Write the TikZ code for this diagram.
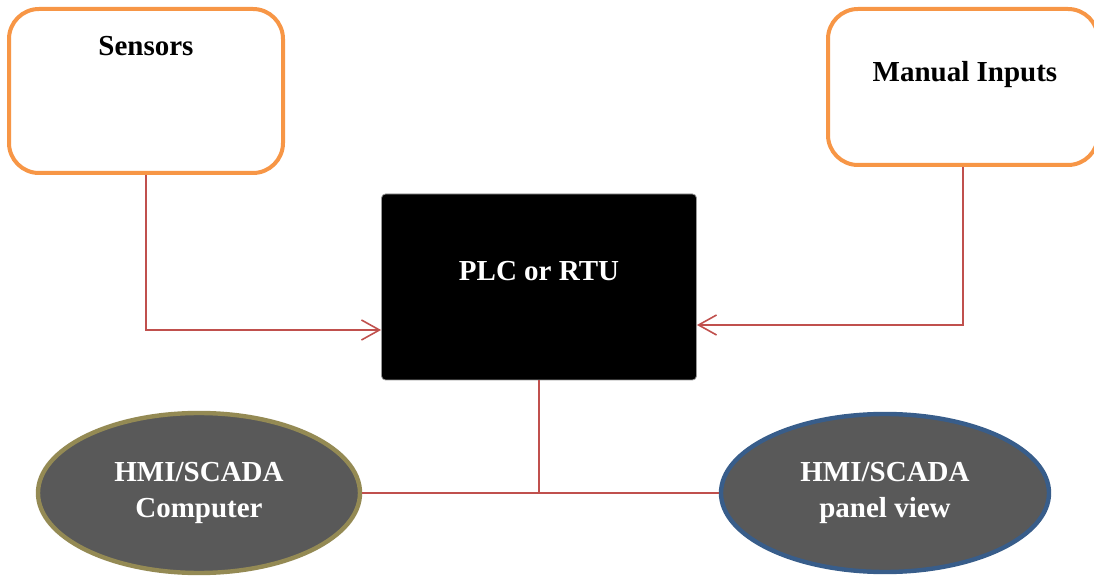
\documentclass[tikz,border=0pt]{standalone}
\usepackage{fontspec}
\setmainfont{Liberation Serif}
\usepackage{tikz}
\definecolor{orangeline}{RGB}{247, 150, 70}
\definecolor{wirered}{RGB}{192, 80, 77}
\definecolor{olivering}{RGB}{148, 138, 84}
\definecolor{bluering}{RGB}{56, 93, 138}
\definecolor{darkfill}{RGB}{89, 89, 89}
\usetikzlibrary{positioning}
\usetikzlibrary{shapes.geometric}
\usetikzlibrary{arrows.meta}

\begin{document}
\begin{tikzpicture}
			[x=0.5pt,y=-0.5pt,every node/.style={inner sep=0pt},
			inbox/.style={rectangle, rounded corners=15pt, draw=orangeline, line width=2pt, fill=white},
			txt/.style={font=\fontsize{14.5}{18}\selectfont\bfseries, align=center},
			hmi/.style={ellipse, fill=darkfill, line width=2.2pt, text=white, txt},
			wire/.style={draw=wirered, line width=0.8pt},
			tip/.style={-{Straight Barb[length=9pt,width=10pt]}}]
			\useasboundingbox (0, 0) rectangle (1094, 577);
			\node (sensors) [inbox, minimum width=137pt, minimum height=82pt] at (146, 91)  {};
			\node (manual) [inbox, minimum width=135pt, minimum height=78pt] at (963, 87)  {};
			\node (plc) [rectangle, rounded corners=2pt, fill=black, draw=black!40, line width=0.4pt, minimum width=157.5pt, minimum height=93pt] at (539, 287)  {};
			\node (hmipc) [hmi, draw=olivering, minimum width=161pt, minimum height=80pt] at (199, 493)  {HMI/SCADA\\Computer};
			\node (hmipanel) [hmi, draw=bluering, minimum width=164pt, minimum height=79pt] at (885, 493)  {HMI/SCADA\\panel view};
			\node (sensorstext) [txt, anchor=base] at (146, 56)  {Sensors};
			\node (manualtext) [txt, anchor=base] at (965, 82)  {Manual Inputs};
			\node (plctext) [txt, text=white, anchor=base] at (539, 281)  {PLC or RTU};
			\draw [wire, tip] (sensors.south) |- ([yshift=-21.5pt]plc.west);
			\draw [wire, tip] (manual.south) |- ([yshift=-19pt]plc.east);
			\draw [wire] (plc.south) -- (plc.south |- hmipc.east);
			\draw [wire] (hmipc.east) -- (hmipanel.west);
	\end{tikzpicture}
\end{document}
